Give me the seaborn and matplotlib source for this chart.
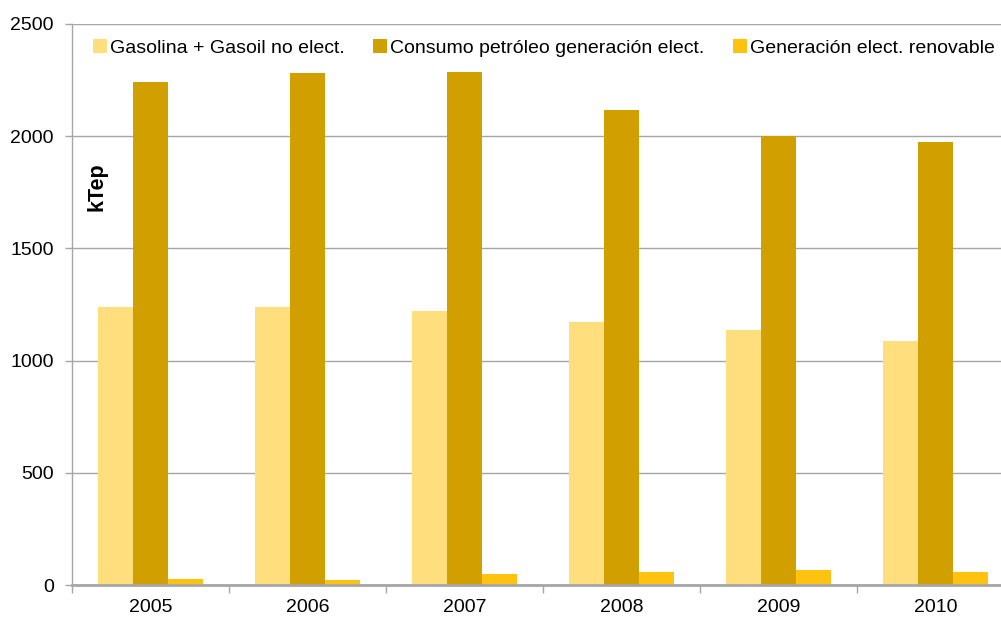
import matplotlib
matplotlib.use("Agg")
import matplotlib.pyplot as plt
import seaborn as sns
import pandas as pd
from matplotlib.ticker import FixedLocator

years = ["2005", "2006", "2007", "2008", "2009", "2010"]
series_names = [
    "Gasolina + Gasoil no elect.",
    "Consumo petróleo generación elect.",
    "Generación elect. renovable",
]
gasolina_gasoil = [1239, 1239, 1221, 1172, 1136, 1087]
petroleo_electrica = [2241, 2280, 2285, 2117, 2002, 1974]
renovable = [27, 21, 50, 59, 68, 58]
colors = ["#FFDE7D", "#D29F00", "#FFC20F"]
y_ticks = [0, 500, 1000, 1500, 2000, 2500]

rows = []
for name, vals in zip(series_names, [gasolina_gasoil, petroleo_electrica, renovable]):
    for y, v in zip(years, vals):
        rows.append({"Año": y, "Serie": name, "kTep": v})
df = pd.DataFrame(rows)

sns.set_theme(style="white")
plt.rcParams["font.family"] = ["Liberation Sans", "DejaVu Sans"]

W, H = 1001, 619
fig = plt.figure(figsize=(W / 100, H / 100), dpi=100)
# plot area in pixel coordinates: x 72..1014 (right part runs past the edge), y 24..585
ax = fig.add_axes([72 / W, (H - 585) / H, 942 / W, 561 / H])

sns.barplot(
    data=df, x="Año", y="kTep", hue="Serie", hue_order=series_names,
    order=years, palette=colors, width=0.663, gap=0, dodge=True,
    saturation=1, ax=ax, linewidth=0, errorbar=None,
)

ax.set_ylim(0, 2500)
ax.set_xlim(-0.5, len(years) - 0.5)
ax.set_yticks(y_ticks)
ax.yaxis.grid(True, color="#A6A6A6", linewidth=1.0)
ax.set_axisbelow(True)

for side in ["top", "right"]:
    ax.spines[side].set_visible(False)
ax.spines["left"].set_color("#A6A6A6")
ax.spines["left"].set_linewidth(1.0)
ax.spines["bottom"].set_color("#A6A6A6")
ax.spines["bottom"].set_linewidth(2.0)

ax.tick_params(axis="y", which="major", length=5, width=1, color="#A6A6A6",
               direction="out", labelsize=14, pad=8, labelcolor="black", left=True)
ax.tick_params(axis="x", which="major", length=0, labelsize=14, pad=10, labelcolor="black")
ax.xaxis.set_minor_locator(FixedLocator([i - 0.5 for i in range(len(years) + 1)]))
ax.tick_params(axis="x", which="minor", length=6, width=1, color="#A6A6A6",
               direction="out", bottom=True)
ax.set_xlabel("")
ax.set_ylabel("")

fig.text(97 / W, 1 - 187 / H, "kTep", rotation=90, ha="center", va="center",
         fontsize=15.5, fontweight="bold", color="black")

leg = ax.legend(
    loc="upper left", bbox_to_anchor=(93 / W, 1 - 39 / H),
    bbox_transform=fig.transFigure, ncol=3, frameon=False, fontsize=14,
    handlelength=0.7, handleheight=0.7, handletextpad=0.15, columnspacing=1.5,
    borderaxespad=0, borderpad=0,
)
for t in leg.get_texts():
    t.set_color("black")

fig.savefig("out.png", dpi=100)
